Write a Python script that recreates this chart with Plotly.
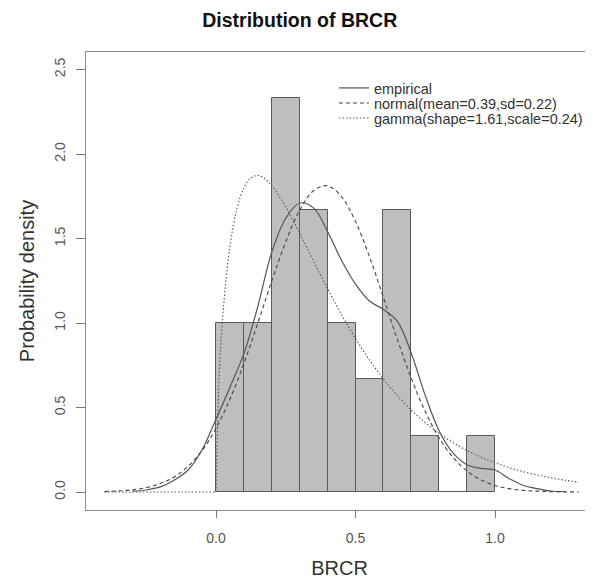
import plotly.graph_objects as go

# Histogram of BRCR (bin width 0.1)
bin_centers = [0.05, 0.15, 0.25, 0.35, 0.45, 0.55, 0.65, 0.75, 0.85, 0.95]
bin_density = [1.0, 1.0, 2.333, 1.667, 1.0, 0.667, 1.667, 0.333, 0.0, 0.333]

# Empirical density curve
emp_x = [-0.30, -0.25, -0.20, -0.15, -0.10, -0.05, 0.00, 0.05, 0.10, 0.15, 0.20,
         0.25, 0.30, 0.35, 0.40, 0.45, 0.50, 0.55, 0.60, 0.65, 0.70, 0.75, 0.80,
         0.85, 0.90, 0.95, 1.00, 1.05, 1.10, 1.15, 1.20, 1.25]
emp_y = [0.005, 0.012, 0.03, 0.07, 0.13, 0.25, 0.43, 0.62, 0.82, 1.10, 1.42,
         1.62, 1.71, 1.68, 1.54, 1.37, 1.23, 1.13, 1.08, 1.01, 0.82, 0.57, 0.36,
         0.23, 0.16, 0.14, 0.13, 0.08, 0.04, 0.02, 0.006, 0.002]

# Normal fit curve
norm_x = [-0.40, -0.35, -0.30, -0.25, -0.20, -0.15, -0.10, -0.05, 0.00, 0.05, 0.10,
          0.15, 0.20, 0.25, 0.30, 0.35, 0.40, 0.45, 0.50, 0.55, 0.60, 0.65, 0.70,
          0.75, 0.80, 0.85, 0.90, 0.95, 1.00, 1.05, 1.10, 1.15, 1.20, 1.25, 1.30]
norm_y = [0.003, 0.006, 0.013, 0.026, 0.050, 0.089, 0.152, 0.245, 0.377, 0.550, 0.761,
          1.000, 1.249, 1.481, 1.668, 1.784, 1.812, 1.747, 1.600, 1.392, 1.150, 0.902, 0.672,
          0.475, 0.319, 0.204, 0.124, 0.071, 0.039, 0.020, 0.010, 0.005, 0.002, 0.001, 0.0003]

# Gamma fit curve
gam_x = [-0.40, -0.30, -0.20, -0.10, 0.00, 0.00, 0.01, 0.025, 0.05, 0.075, 0.10, 0.125,
         0.15, 0.175, 0.20, 0.25, 0.30, 0.35, 0.40, 0.45, 0.50, 0.55, 0.60, 0.65,
         0.70, 0.75, 0.80, 0.85, 0.90, 0.95, 1.00, 1.05, 1.10, 1.15, 1.20, 1.25, 1.30]
gam_y = [0.0, 0.0, 0.0, 0.0, 0.0, 0.0, 0.642, 1.057, 1.454, 1.677, 1.800, 1.859,
         1.873, 1.853, 1.812, 1.686, 1.530, 1.364, 1.202, 1.049, 0.908, 0.781, 0.669, 0.570,
         0.484, 0.410, 0.346, 0.292, 0.245, 0.206, 0.173, 0.144, 0.121, 0.101, 0.084, 0.070, 0.058]

x_ticks = [0.0, 0.5, 1.0]
x_ticklabels = ["0.0", "0.5", "1.0"]
y_ticks = [0.0, 0.5, 1.0, 1.5, 2.0, 2.5]
y_ticklabels = ["0.0", "0.5", "1.0", "1.5", "2.0", "2.5"]

fig = go.Figure()
fig.add_trace(go.Bar(x=bin_centers, y=bin_density, width=0.1,
                     marker=dict(color="#bebebe", line=dict(color="#5a5a5a", width=1)),
                     showlegend=False, hoverinfo="skip"))
fig.add_trace(go.Scatter(x=emp_x, y=emp_y, mode="lines", name="empirical", legend="legend",
                         line=dict(color="#555555", width=1.2, shape="spline")))
fig.add_trace(go.Scatter(x=norm_x, y=norm_y, mode="lines", legend="legend2",
                         name="normal(mean=0.39,sd=0.22)",
                         line=dict(color="#444444", width=1.1, dash="4px,3px", shape="spline")))
fig.add_trace(go.Scatter(x=gam_x, y=gam_y, mode="lines", legend="legend3",
                         name="gamma(shape=1.61,scale=0.24)",
                         line=dict(color="#555555", width=1.1, dash="1.5px,2px", shape="spline")))

font_family = "Liberation Sans, Arial, sans-serif"
leg_common = dict(x=0.489, xanchor="left", yanchor="middle",
                  bgcolor="rgba(0,0,0,0)", font=dict(size=14.5, color="#333333"),
                  tracegroupgap=0, itemwidth=30)

fig.update_layout(
    width=593, height=581,
    margin=dict(l=78, r=8, t=44, b=79),
    plot_bgcolor="white", paper_bgcolor="white",
    font=dict(family=font_family, color="#333333"),
    title=dict(text="<b>Distribution of BRCR</b>", x=0.492, xanchor="center",
               y=0.979, yanchor="middle", font=dict(size=19.5, color="#111111")),
    bargap=0,
    legend=dict(y=(510 - 88) / 458, **leg_common),
    legend2=dict(y=(510 - 103) / 458, **leg_common),
    legend3=dict(y=(510 - 118) / 458, **leg_common),
    xaxis=dict(range=[-0.466, 1.351], showgrid=False, zeroline=False, automargin=False,
               showline=True, linecolor="#8a8a8a", linewidth=1, mirror=True,
               tickmode="array", tickvals=x_ticks, ticktext=x_ticklabels,
               ticks="outside", ticklen=7, tickcolor="#777777",
               ticklabelstandoff=8,
               tickfont=dict(size=14, color="#555555"),
               title=dict(text="BRCR", font=dict(size=20, color="#333333"), standoff=16)),
    yaxis=dict(range=[-0.1065, 2.6036], showgrid=False, zeroline=False, automargin=False,
               showline=True, linecolor="#8a8a8a", linewidth=1,
               tickmode="array", tickvals=y_ticks, ticktext=y_ticklabels,
               ticks="outside", ticklen=9, tickcolor="#777777", tickangle=-90,
               ticklabelstandoff=5,
               tickfont=dict(size=14, color="#555555"),
               title=dict(text="Probability density", font=dict(size=20, color="#333333"),
                          standoff=12)),
)

fig.write_html("out.html")
